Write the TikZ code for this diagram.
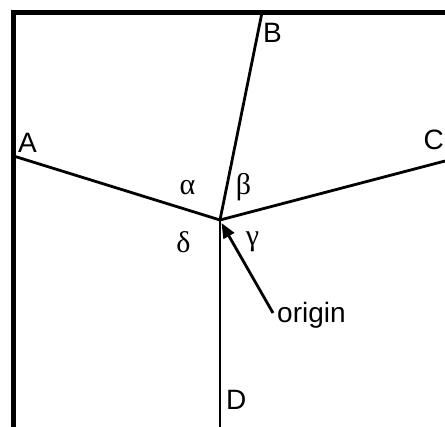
\documentclass[tikz,border=0pt]{standalone}
\usepackage{fontspec}
\setmainfont{Liberation Sans}
\newfontfamily\greekfont{Liberation Serif}
\usetikzlibrary{arrows.meta}
\begin{document}
\begin{tikzpicture}[x=1pt,y=-1pt,
  edge/.style={line width=2.8pt},
  frameline/.style={line width=5pt},
  lbl/.style={inner sep=0pt,anchor=base west,font=\fontsize{28}{30}\selectfont},
  glbl/.style={inner sep=0pt,anchor=base,font=\fontsize{30}{32}\selectfont\greekfont}]
\useasboundingbox (0,0) rectangle (445,427);
\draw[frameline] (13.5,427) -- (13.5,12.5) -- (445,12.5);
\coordinate (O) at (220,220);
\coordinate (Aend) at (13.5,156);
\coordinate (Bend) at (262,12.5);
\coordinate (Cend) at (445,161);
\coordinate (Dend) at (220,427);
\draw[edge] (Aend) -- (O);
\draw[edge] (Bend) -- (O);
\draw[edge] (Cend) -- (O);
\draw[edge] (Dend) -- (O);
\node[lbl] (A) at (18,153) {A};
\node[lbl] (B) at (263,43) {B};
\node[lbl] (C) at (423.5,150) {C};
\node[lbl] (D) at (226,410) {D};
\node[lbl] (origin) at (277,323) {origin};
\node[glbl] (alpha) at (187.5,195) {α};
\node[glbl] (beta) at (243.5,195) {β};
\node[glbl] (gamma) at (252.5,246) {γ};
\node[glbl] (delta) at (183.5,253) {δ};
\coordinate (tail) at (273,313);
\coordinate (tip) at (221.5,223);
\draw[edge,-{Triangle[length=15pt,width=12pt]}] (tail) -- (tip);
\end{tikzpicture}
\end{document}
